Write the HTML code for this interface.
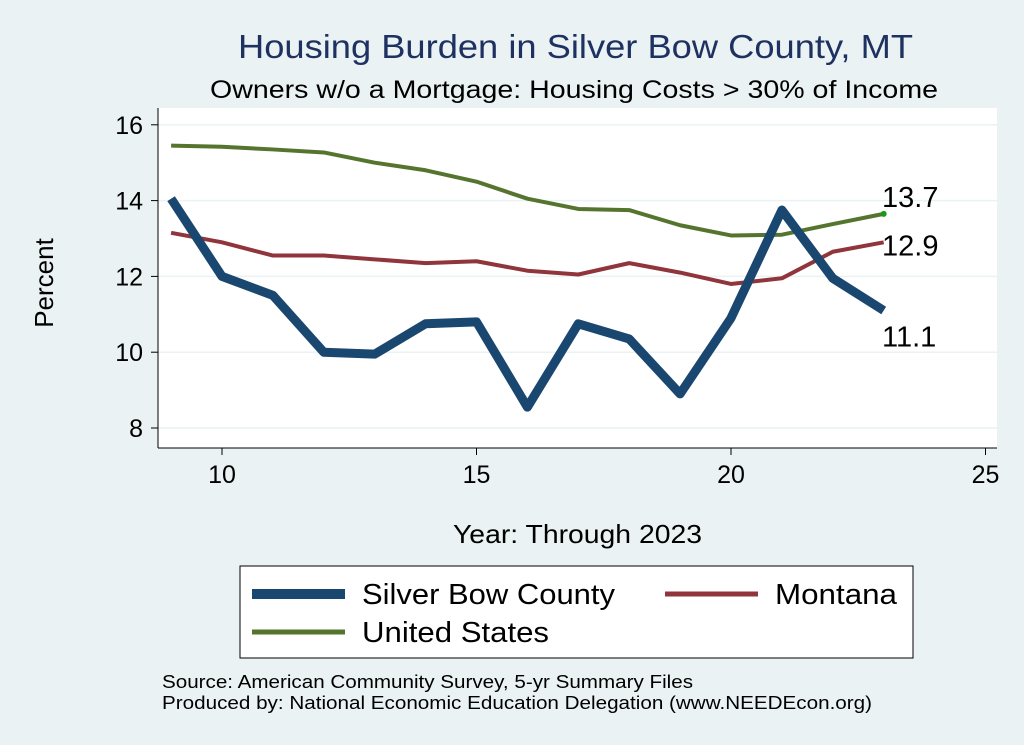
<!DOCTYPE html>
<html><head><meta charset="utf-8"><style>
body{margin:0;background:#eaf2f3;font-family:"Liberation Sans",sans-serif;}
svg{display:block}
</style></head><body>
<svg width="1024" height="745" viewBox="0 0 1024 745">
<rect x="0" y="0" width="1024" height="745" fill="#eaf2f3"/>
<text x="238" y="58" font-size="33" fill="#1e3160" textLength="675" lengthAdjust="spacingAndGlyphs">Housing Burden in Silver Bow County, MT</text>
<text x="210" y="98" font-size="25" fill="#000" textLength="728" lengthAdjust="spacingAndGlyphs">Owners w/o a Mortgage: Housing Costs &gt; 30% of Income</text>
<rect x="158" y="108" width="839" height="340" fill="#fff"/>
<g id="grid"></g><g id="axes"></g><g id="series"></g><g id="labels"></g>
<text transform="translate(53,283) rotate(-90)" font-size="26" text-anchor="middle">Percent</text>
<text x="453" y="543" font-size="26" textLength="249" lengthAdjust="spacingAndGlyphs">Year: Through 2023</text>
<g>
<rect x="240" y="566" width="673" height="92" fill="#fff" stroke="#000" stroke-width="1"/>
<line x1="252" y1="594" x2="345" y2="594" stroke="#1a476f" stroke-width="10"/>
<text x="362" y="604" font-size="29" textLength="253" lengthAdjust="spacingAndGlyphs">Silver Bow County</text>
<line x1="665" y1="594" x2="758" y2="594" stroke="#90353b" stroke-width="5"/>
<text x="775" y="604" font-size="29" textLength="122" lengthAdjust="spacingAndGlyphs">Montana</text>
<line x1="252" y1="632" x2="345" y2="632" stroke="#55752f" stroke-width="5"/>
<text x="362" y="642" font-size="29" textLength="187" lengthAdjust="spacingAndGlyphs">United States</text>
</g>
<text x="162" y="688" font-size="18" textLength="531" lengthAdjust="spacingAndGlyphs">Source: American Community Survey, 5-yr Summary Files</text>
<text x="162" y="709" font-size="18" textLength="710" lengthAdjust="spacingAndGlyphs">Produced by: National Economic Education Delegation (www.NEEDEcon.org)</text>
</svg>
<script>
const years=[9,10,11,12,13,14,15,16,17,18,19,20,21,22,23];
const silverBow=[14.05,12.0,11.5,10.0,9.95,10.75,10.8,8.55,10.75,10.35,8.9,10.9,13.75,11.95,11.1];
const montana=[13.15,12.9,12.55,12.55,12.45,12.35,12.4,12.15,12.05,12.35,12.1,11.8,11.95,12.65,12.9];
const unitedStates=[15.45,15.42,15.35,15.27,15.0,14.8,14.5,14.05,13.78,13.75,13.35,13.08,13.1,13.38,13.65];
const yTicks=[8,10,12,14,16];
const xTicks=[10,15,20,25];
const NS="http://www.w3.org/2000/svg";
const xs=v=>222+(v-10)*50.9;
const ys=v=>428-(v-8)*37.9;
function mk(tag,attrs,parent){const e=document.createElementNS(NS,tag);for(const k in attrs)e.setAttribute(k,attrs[k]);document.getElementById(parent).appendChild(e);return e;}
yTicks.forEach(t=>{
 const g=mk('line',{x1:158,x2:997,y1:ys(t),y2:ys(t),stroke:'#eaf2f3','stroke-width':1.5},'grid');
 
 
 const tk=mk('line',{x1:151,x2:158,y1:ys(t),y2:ys(t),stroke:'#000'},'axes');
 
 
 const tx=mk('text',{x:143,y:ys(t)+9,'font-size':25,'text-anchor':'end'},'axes');tx.textContent=t;
 
 
});
xTicks.forEach(t=>{
 const tk=mk('line',{x1:xs(t),x2:xs(t),y1:448,y2:455,stroke:'#000'},'axes');
 
 
 const tx=mk('text',{x:xs(t),y:483,'font-size':25,'text-anchor':'middle'},'axes');tx.textContent=t;
 
 
});
const ya=mk('line',{x1:158,x2:158,y1:108,y2:448,stroke:'#000'},'axes');


const xa=mk('line',{x1:158,x2:997,y1:448,y2:448,stroke:'#000'},'axes');


function line(vals,color,w,name){
 const p=mk('polyline',{points:vals.map((v,i)=>xs(years[i])+','+ys(v)).join(' '),fill:'none',stroke:color,'stroke-width':w,'stroke-linejoin':'round'},'series');
 
 
}
line(montana,'#90353b',4,'line-montana');
line(unitedStates,'#55752f',4,'line-united-states');
line(silverBow,'#1a476f',9,'line-silver-bow');
const dot=mk('circle',{cx:xs(23),cy:ys(unitedStates[14]),r:3,fill:'#1a9a1a'},'series');


const last=[[unitedStates,'label-us',-7],[montana,'label-montana',13],[silverBow,'label-silver-bow',36]];
last.forEach(([arr,n,dy])=>{
 const v=arr[arr.length-1];
 const t=mk('text',{x:882,y:ys(v)+dy,'font-size':29},'labels');t.textContent=v.toFixed(1);
 
 
});
</script>
</body></html>
